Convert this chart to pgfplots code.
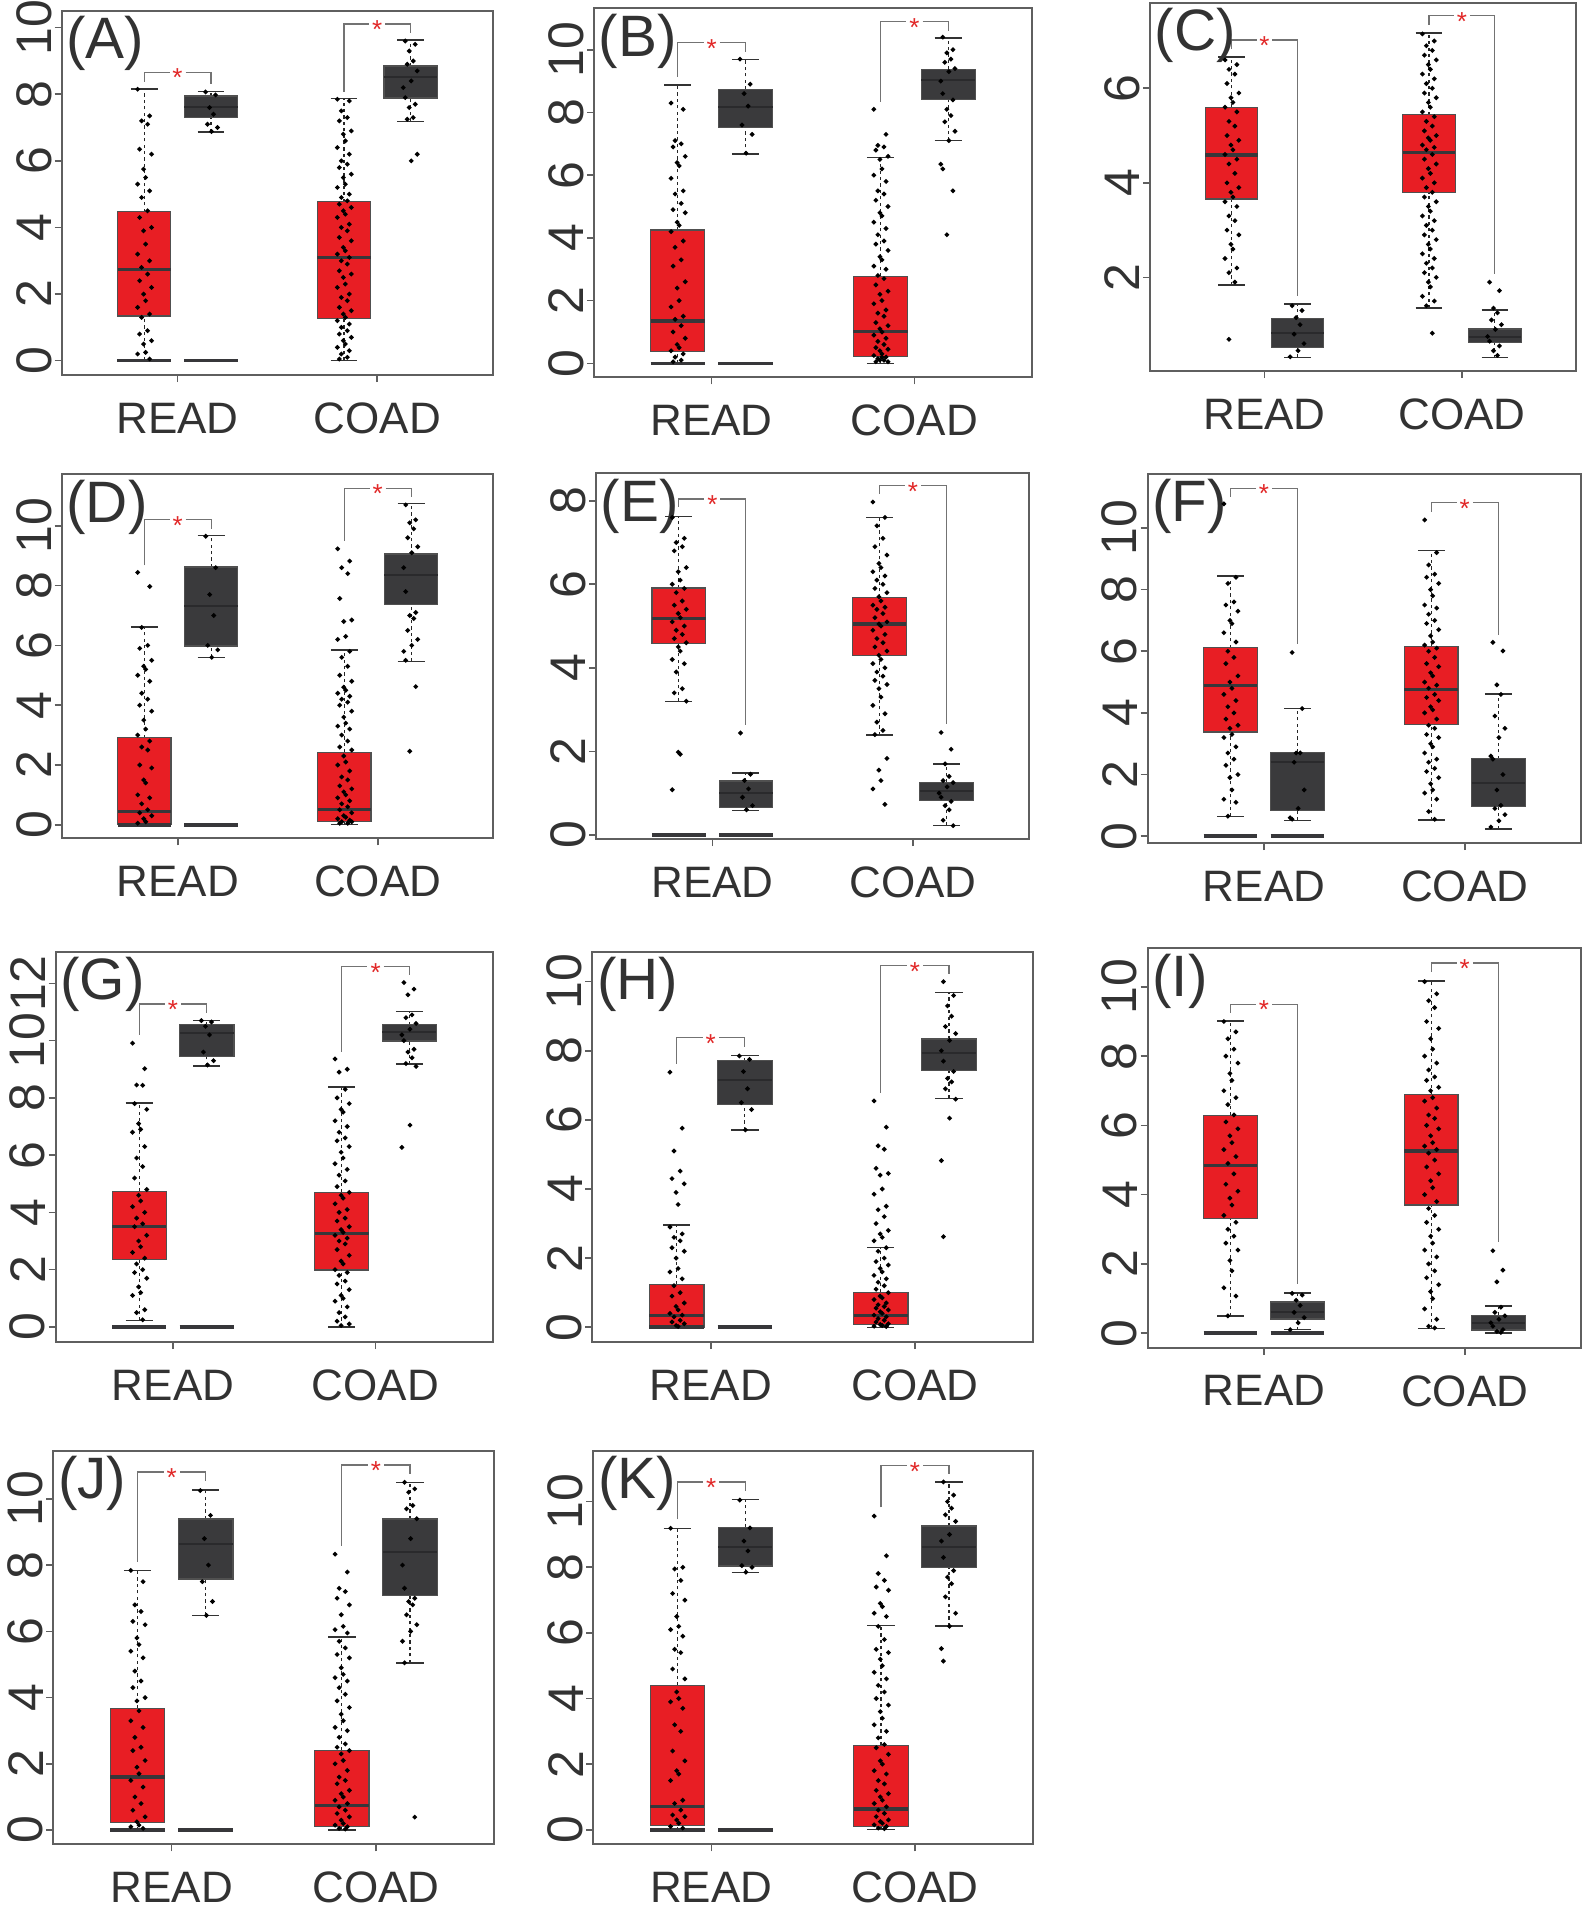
\documentclass[border=0pt]{standalone}
\usepackage{fontspec}
\setmainfont{Liberation Sans}
\usepackage{pgfplots}
\pgfplotsset{compat=1.18}
\usepgfplotslibrary{statistics}
\definecolor{tred}{RGB}{232,30,36}
\definecolor{ndark}{RGB}{58,58,60}
\definecolor{edgegray}{RGB}{80,80,80}
\definecolor{axisgray}{RGB}{95,95,95}
\definecolor{textgray}{RGB}{50,50,50}
\definecolor{brkgray}{RGB}{115,115,115}
\definecolor{starred}{RGB}{225,40,40}
\definecolor{medcol}{RGB}{55,55,58}
\definecolor{nmed}{RGB}{42,42,44}
\tikzset{
  wdash/.style={draw=black!85, line width=0.3pt, dash pattern=on 0.8pt off 0.8pt},
  wcap/.style={draw=black!80, line width=0.35pt},
  star/.style={text=starred, font=\fontsize{6.5}{6.5}\selectfont, inner sep=0pt, anchor=center, yshift=-1.4pt},
  plab/.style={anchor=north west, inner sep=0pt, xshift=1pt, yshift=-1.2pt, font=\fontsize{14.6}{14.6}\selectfont, text=textgray},
}
\pgfplotsset{
  boxplot/draw/lower whisker/.code={%
    \draw[wdash] (boxplot box cs:\pgfplotsboxplotvalue{lower whisker},0.5) -- (boxplot box cs:\pgfplotsboxplotvalue{lower quartile},0.5);
    \draw[wcap] (boxplot whisker cs:\pgfplotsboxplotvalue{lower whisker},0) -- (boxplot whisker cs:\pgfplotsboxplotvalue{lower whisker},1);
  },
  boxplot/draw/upper whisker/.code={%
    \draw[wdash] (boxplot box cs:\pgfplotsboxplotvalue{upper quartile},0.5) -- (boxplot box cs:\pgfplotsboxplotvalue{upper whisker},0.5);
    \draw[wcap] (boxplot whisker cs:\pgfplotsboxplotvalue{upper whisker},0) -- (boxplot whisker cs:\pgfplotsboxplotvalue{upper whisker},1);
  },
  pts/.style={only marks, mark=*, mark size=0.36pt, mark options={draw=black, fill=black}},
  zl/.style={draw=medcol, line width=0.9pt},
  brk/.style={draw=brkgray, line width=0.3pt},
  tum/.style={boxplot/every box/.style={fill=tred, draw=edgegray, line width=0.3pt}, boxplot/every median/.style={draw=medcol, line width=0.8pt}},
  nor/.style={boxplot/every box/.style={fill=ndark, draw=edgegray, line width=0.3pt}, boxplot/every median/.style={draw=nmed, line width=0.5pt}},
  panel/.style={
    scale only axis, anchor=north west, clip=false,
    xmin=0.42, xmax=2.578, xtick={1,2}, xticklabels={READ,COAD},
    tick pos=left, tick align=outside, major tick length=1.75pt,
    axis line style={draw=axisgray, line width=0.5pt},
    every tick/.style={draw=axisgray, line width=0.4pt},
    /pgf/number format/assume math mode=true,
    yticklabel style={font=\fontsize{12.5}{12.5}\selectfont, text=textgray, inner sep=0pt, xshift=-0.6pt, rotate=90, anchor=south},
    xticklabel style={font=\fontsize{11}{11}\selectfont, text=textgray, inner sep=0pt, anchor=north, yshift=-5pt},
    boxplot/draw direction=y,
    boxplot/box extend=0.267, boxplot/whisker extend=0.134,
  },
}
\newcommand\bp[7]{\addplot[boxplot prepared={draw position=#1, lower whisker=#2, lower quartile=#3, median=#4, upper quartile=#5, upper whisker=#6}, #7] coordinates {};}
\newcommand\zR{\addplot[zl] coordinates {(0.699,0) (0.967,0)}; \addplot[zl] coordinates {(1.033,0) (1.301,0)};}
\newcommand\brkR[3]{\addplot[brk] coordinates {(0.833,#1) (0.833,#2) (0.96,#2)}; \addplot[brk] coordinates {(1.04,#2) (1.167,#2) (1.167,#3)}; \node[star] at (axis cs:1,#2) {*};}
\newcommand\brkC[3]{\addplot[brk] coordinates {(1.833,#1) (1.833,#2) (1.96,#2)}; \addplot[brk] coordinates {(2.04,#2) (2.167,#2) (2.167,#3)}; \node[star] at (axis cs:2,#2) {*};}
\begin{document}
\begin{tikzpicture}
\path[use as bounding box] (0pt,0pt) rectangle (398.25pt,-479pt);

% ---------------- (A)
\begin{axis}[panel, at={(15.43pt,-2.75pt)}, width=107.75pt, height=91pt, ymin=-0.43, ymax=10.5, ytick={0,2,4,6,8,10}]
\bp{0.833}{0}{1.34}{2.74}{4.47}{8.16}{tum}
\bp{1.167}{6.87}{7.30}{7.62}{7.95}{8.09}{nor}
\bp{1.833}{0}{1.27}{3.11}{4.77}{7.87}{tum}
\bp{2.167}{7.19}{7.89}{8.53}{8.85}{9.63}{nor}
\zR
\brkR{8.38}{8.66}{8.31}
\brkC{8.08}{10.11}{9.85}
\addplot[pts] table[row sep=\\, header=false]{
0.80 8.15\\0.86 7.35\\0.82 7.2\\0.85 7.1\\0.81 6.35\\0.87 6.2\\0.83 5.75\\0.84 5.5\\
0.80 5.3\\0.86 5.1\\0.82 4.9\\0.85 4.5\\0.81 4.3\\0.87 4.0\\0.83 3.9\\0.84 3.5\\
0.80 3.2\\0.86 3.0\\0.82 2.8\\0.85 2.6\\0.81 2.4\\0.87 2.2\\0.83 2.0\\0.84 1.8\\
0.80 1.6\\0.86 1.4\\0.82 1.3\\0.85 0.9\\0.81 0.8\\0.87 0.6\\0.83 0.5\\0.84 0.25\\
0.80 0.2\\0.86 0.05\\
1.14 8.07\\1.19 7.98\\1.16 7.6\\1.18 7.4\\1.15 7.1\\1.20 7.0\\1.17 6.88\\
1.80 7.85\\1.86 7.8\\1.82 7.5\\1.85 7.3\\1.81 7.2\\1.87 6.9\\1.83 6.8\\1.84 6.6\\
1.80 6.4\\1.86 6.2\\1.82 6.0\\1.85 5.9\\1.81 5.8\\1.87 5.6\\1.83 5.5\\1.84 5.3\\
1.80 5.2\\1.86 5.0\\1.82 4.9\\1.85 4.8\\1.81 4.7\\1.87 4.6\\1.83 4.5\\1.84 4.4\\
1.80 4.3\\1.86 4.1\\1.82 4.0\\1.85 3.9\\1.81 3.7\\1.87 3.6\\1.83 3.4\\1.84 3.3\\
1.80 3.2\\1.86 3.1\\1.82 3.0\\1.85 2.9\\1.81 2.7\\1.87 2.6\\1.83 2.5\\1.84 2.3\\
1.80 2.2\\1.86 2.0\\1.82 1.9\\1.85 1.8\\1.81 1.6\\1.87 1.5\\1.83 1.4\\1.84 1.3\\
1.80 1.2\\1.86 1.1\\1.82 1.0\\1.85 0.9\\1.81 0.8\\1.87 0.7\\1.83 0.6\\1.84 0.5\\
1.80 0.4\\1.86 0.3\\1.82 0.2\\1.85 0.1\\1.81 0.05\\
2.14 9.6\\2.19 9.5\\2.16 9.3\\2.18 9.0\\2.15 8.9\\2.20 8.7\\2.17 8.4\\2.13 8.2\\
2.14 7.9\\2.19 7.7\\2.16 7.6\\2.18 7.3\\2.15 7.25\\2.20 6.2\\2.17 6.0\\
};
\node[plab] at (rel axis cs:0,1) {(A)};
\end{axis}

% ---------------- (B)
\begin{axis}[panel, at={(148.5pt,-2.08pt)}, width=109.4pt, height=92.25pt, ymin=-0.446, ymax=11.32, ytick={0,2,4,6,8,10}]
\bp{0.833}{0}{0.39}{1.35}{4.25}{8.87}{tum}
\bp{1.167}{6.68}{7.53}{8.18}{8.74}{9.69}{nor}
\bp{1.833}{0}{0.23}{1.01}{2.78}{6.57}{tum}
\bp{2.167}{7.10}{8.42}{9.03}{9.37}{10.37}{nor}
\zR
\brkR{9.14}{10.22}{9.94}
\brkC{8.34}{10.89}{10.61}
\addplot[pts] table[row sep=\\, header=false]{
0.80 8.3\\0.86 8.1\\0.82 7.1\\0.85 7.0\\0.81 6.9\\0.87 6.6\\0.83 6.4\\0.84 6.3\\
0.80 5.9\\0.86 5.5\\0.82 5.4\\0.85 5.1\\0.81 4.9\\0.87 4.8\\0.83 4.5\\0.84 4.4\\
0.80 4.2\\0.86 3.9\\0.82 3.7\\0.85 3.3\\0.81 3.1\\0.87 2.6\\0.83 2.4\\0.84 2.0\\
0.80 1.8\\0.86 1.5\\0.82 1.4\\0.85 1.2\\0.81 1.0\\0.87 0.8\\0.83 0.6\\0.84 0.5\\
0.80 0.4\\0.86 0.3\\0.82 0.2\\0.85 0.1\\0.81 0.05\\
1.14 9.7\\1.19 8.9\\1.16 8.6\\1.18 8.2\\1.15 7.6\\1.20 7.3\\1.17 6.7\\
1.80 8.1\\1.86 7.3\\1.82 6.95\\1.85 6.9\\1.81 6.8\\1.87 6.6\\1.83 6.5\\1.84 6.2\\
1.80 6.0\\1.86 5.8\\1.82 5.5\\1.85 5.4\\1.81 5.2\\1.87 5.0\\1.83 4.8\\1.84 4.7\\
1.80 4.5\\1.86 4.3\\1.82 4.1\\1.85 3.9\\1.81 3.8\\1.87 3.6\\1.83 3.4\\1.84 3.3\\
1.80 3.1\\1.86 3.0\\1.82 2.8\\1.85 2.7\\1.81 2.5\\1.87 2.3\\1.83 2.2\\1.84 2.0\\
1.80 1.9\\1.86 1.7\\1.82 1.6\\1.85 1.5\\1.81 1.3\\1.87 1.2\\1.83 1.1\\1.84 1.0\\
1.80 0.9\\1.86 0.8\\1.82 0.7\\1.85 0.6\\1.81 0.5\\1.87 0.45\\1.83 0.4\\1.84 0.3\\
1.80 0.25\\1.86 0.2\\1.82 0.15\\1.85 0.1\\1.81 0.05\\1.87 0.05\\1.83 0.1\\1.84 0.2\\
2.14 10.4\\2.19 10.0\\2.16 9.9\\2.18 9.7\\2.15 9.6\\2.20 9.4\\2.17 9.3\\2.13 9.0\\
2.14 8.6\\2.19 8.4\\2.16 8.1\\2.18 7.9\\2.15 7.7\\2.20 7.4\\2.17 7.1\\2.13 6.35\\
2.14 6.2\\2.19 5.5\\2.16 4.1\\
};
\node[plab] at (rel axis cs:0,1) {(B)};
\end{axis}

% ---------------- (C)
\begin{axis}[panel, at={(287.5pt,-0.68pt)}, width=106.5pt, height=92.1pt, ymin=0.018, ymax=7.81, ytick={2,4,6}]
\bp{0.833}{1.84}{3.66}{4.59}{5.59}{6.66}{tum}
\bp{1.167}{0.31}{0.52}{0.82}{1.13}{1.44}{nor}
\bp{1.833}{1.35}{3.79}{4.65}{5.44}{7.17}{tum}
\bp{2.167}{0.30}{0.62}{0.74}{0.91}{1.31}{nor}
\brkR{6.83}{7.02}{1.6}
\brkC{7.34}{7.54}{2.07}
\addplot[pts] table[row sep=\\, header=false]{
0.80 6.6\\0.86 6.5\\0.82 6.4\\0.85 6.3\\0.81 6.1\\0.87 5.9\\0.83 5.8\\0.84 5.7\\
0.80 5.6\\0.86 5.5\\0.82 5.3\\0.85 5.2\\0.81 5.0\\0.87 4.9\\0.83 4.8\\0.84 4.7\\
0.80 4.6\\0.86 4.5\\0.82 4.4\\0.85 4.2\\0.81 4.0\\0.87 3.9\\0.83 3.8\\0.84 3.7\\
0.80 3.6\\0.86 3.5\\0.82 3.3\\0.85 3.2\\0.81 3.0\\0.87 2.9\\0.83 2.7\\0.84 2.6\\
0.80 2.4\\0.86 2.2\\0.82 2.1\\0.85 1.9\\0.82 0.69\\
1.14 1.4\\1.19 1.3\\1.16 1.15\\1.18 1.0\\1.15 0.8\\1.20 0.6\\1.17 0.45\\1.13 0.32\\
1.80 7.15\\1.86 7.0\\1.82 6.9\\1.85 6.8\\1.81 6.7\\1.87 6.6\\1.83 6.5\\1.84 6.4\\
1.80 6.3\\1.86 6.2\\1.82 6.1\\1.85 6.0\\1.81 5.9\\1.87 5.8\\1.83 5.7\\1.84 5.6\\
1.80 5.5\\1.86 5.4\\1.82 5.3\\1.85 5.2\\1.81 5.1\\1.87 5.0\\1.83 4.95\\1.84 4.9\\
1.80 4.8\\1.86 4.75\\1.82 4.7\\1.85 4.6\\1.81 4.5\\1.87 4.4\\1.83 4.3\\1.84 4.2\\
1.80 4.1\\1.86 4.0\\1.82 3.9\\1.85 3.8\\1.81 3.7\\1.87 3.6\\1.83 3.5\\1.84 3.4\\
1.80 3.3\\1.86 3.2\\1.82 3.1\\1.85 3.0\\1.81 2.9\\1.87 2.8\\1.83 2.7\\1.84 2.6\\
1.80 2.5\\1.86 2.4\\1.82 2.3\\1.85 2.2\\1.81 2.1\\1.87 2.0\\1.83 1.9\\1.84 1.8\\
1.80 1.6\\1.86 1.5\\1.82 1.4\\1.85 0.82\\
2.14 1.9\\2.19 1.72\\2.16 1.35\\2.18 1.25\\2.15 1.1\\2.20 1.0\\2.17 0.9\\2.13 0.75\\
2.14 0.65\\2.19 0.55\\2.16 0.45\\2.18 0.35\\
};
\node[plab] at (rel axis cs:0,1) {(C)};
\end{axis}

% ---------------- (D)
\begin{axis}[panel, at={(15.43pt,-118.6pt)}, width=107.9pt, height=91pt, ymin=-0.457, ymax=11.72, ytick={0,2,4,6,8,10}]
\bp{0.833}{0}{0}{0.45}{2.91}{6.61}{tum}
\bp{1.167}{5.60}{5.98}{7.31}{8.62}{9.68}{nor}
\bp{1.833}{0}{0.11}{0.52}{2.42}{5.84}{tum}
\bp{2.167}{5.46}{7.38}{8.35}{9.06}{10.74}{nor}
\zR
\brkR{8.68}{10.21}{9.91}
\brkC{9.5}{11.26}{10.97}
\addplot[pts] table[row sep=\\, header=false]{
0.80 8.44\\0.86 7.97\\0.82 6.6\\0.85 6.0\\0.81 5.9\\0.87 5.5\\0.83 5.3\\0.84 5.2\\
0.80 5.0\\0.86 4.8\\0.82 4.4\\0.85 4.2\\0.81 4.0\\0.87 3.8\\0.83 3.5\\0.84 3.2\\
0.80 3.0\\0.86 2.8\\0.82 2.6\\0.85 2.5\\0.81 2.0\\0.87 1.9\\0.83 1.5\\0.84 1.4\\
0.80 1.0\\0.86 0.9\\0.82 0.7\\0.85 0.5\\0.81 0.4\\0.87 0.3\\0.83 0.2\\0.84 0.1\\
0.80 0.05\\
1.14 9.65\\1.19 8.6\\1.16 7.7\\1.18 7.0\\1.15 6.0\\1.20 5.85\\1.17 5.6\\
1.80 9.23\\1.86 8.82\\1.82 8.6\\1.85 8.4\\1.81 7.57\\1.87 6.85\\1.83 6.8\\1.84 6.3\\
1.80 6.2\\1.86 5.8\\1.82 5.6\\1.85 5.3\\1.81 5.0\\1.87 4.8\\1.83 4.6\\1.84 4.5\\
1.80 4.4\\1.86 4.3\\1.82 4.2\\1.85 4.1\\1.81 4.0\\1.87 3.8\\1.83 3.6\\1.84 3.4\\
1.80 3.3\\1.86 3.2\\1.82 3.0\\1.85 2.8\\1.81 2.6\\1.87 2.5\\1.83 2.3\\1.84 2.1\\
1.80 2.0\\1.86 1.8\\1.82 1.6\\1.85 1.5\\1.81 1.3\\1.87 1.2\\1.83 1.1\\1.84 1.0\\
1.80 0.9\\1.86 0.8\\1.82 0.7\\1.85 0.6\\1.81 0.5\\1.87 0.4\\1.83 0.3\\1.84 0.25\\
1.80 0.2\\1.86 0.15\\1.82 0.1\\1.85 0.05\\1.81 0.05\\1.87 0.1\\
2.14 10.7\\2.19 10.2\\2.16 10.1\\2.18 9.9\\2.15 9.6\\2.20 9.3\\2.17 9.1\\2.13 8.6\\
2.14 7.8\\2.19 7.1\\2.16 7.0\\2.18 6.9\\2.15 6.5\\2.20 6.2\\2.17 6.0\\2.13 5.8\\
2.14 5.5\\2.19 4.62\\2.16 2.46\\
};
\node[plab] at (rel axis cs:0,1) {(D)};
\end{axis}

% ---------------- (E)
\begin{axis}[panel, at={(149pt,-118.3pt)}, width=108.25pt, height=91.5pt, ymin=-0.104, ymax=8.66, ytick={0,2,4,6,8}]
\bp{0.833}{3.20}{4.58}{5.19}{5.91}{7.63}{tum}
\bp{1.167}{0.59}{0.65}{1.0}{1.29}{1.48}{nor}
\bp{1.833}{2.39}{4.30}{5.05}{5.68}{7.60}{tum}
\bp{2.167}{0.22}{0.82}{1.04}{1.25}{1.70}{nor}
\zR
\brkR{7.85}{8.04}{2.63}
\brkC{8.17}{8.36}{2.66}
\addplot[pts] table[row sep=\\, header=false]{
0.80 7.6\\0.86 7.1\\0.82 7.0\\0.85 6.9\\0.81 6.8\\0.87 6.4\\0.83 6.3\\0.84 6.1\\
0.80 6.0\\0.86 5.9\\0.82 5.8\\0.85 5.6\\0.81 5.5\\0.87 5.4\\0.83 5.3\\0.84 5.2\\
0.80 5.1\\0.86 5.0\\0.82 4.9\\0.85 4.8\\0.81 4.7\\0.87 4.6\\0.83 4.5\\0.84 4.4\\
0.80 4.2\\0.86 4.1\\0.82 3.9\\0.85 3.5\\0.81 3.4\\0.87 3.2\\0.83 1.98\\0.84 1.93\\
0.80 1.08\\
1.14 2.44\\1.19 1.45\\1.16 1.3\\1.18 1.1\\1.15 0.9\\1.20 0.7\\1.17 0.6\\
1.80 7.97\\1.86 7.6\\1.82 7.4\\1.85 7.1\\1.81 6.9\\1.87 6.7\\1.83 6.5\\1.84 6.4\\
1.80 6.3\\1.86 6.2\\1.82 6.1\\1.85 6.0\\1.81 5.9\\1.87 5.8\\1.83 5.7\\1.84 5.6\\
1.80 5.5\\1.86 5.45\\1.82 5.4\\1.85 5.3\\1.81 5.2\\1.87 5.1\\1.83 5.05\\1.84 5.0\\
1.80 4.9\\1.86 4.8\\1.82 4.7\\1.85 4.6\\1.81 4.5\\1.87 4.4\\1.83 4.3\\1.84 4.2\\
1.80 4.1\\1.86 4.0\\1.82 3.9\\1.85 3.8\\1.81 3.7\\1.87 3.6\\1.83 3.5\\1.84 3.3\\
1.80 3.1\\1.86 2.9\\1.82 2.7\\1.85 2.5\\1.81 2.4\\1.87 1.83\\1.83 1.55\\1.84 1.3\\
1.80 1.1\\1.86 0.73\\
2.14 2.45\\2.19 2.05\\2.16 1.7\\2.18 1.4\\2.15 1.3\\2.20 1.25\\2.17 1.15\\2.13 1.0\\
2.14 0.9\\2.19 0.8\\2.16 0.7\\2.18 0.6\\2.15 0.35\\2.20 0.22\\
};
\node[plab] at (rel axis cs:0,1) {(E)};
\end{axis}

% ---------------- (F)
\begin{axis}[panel, at={(286.9pt,-118.5pt)}, width=108.3pt, height=92.3pt, ymin=-0.227, ymax=11.75, ytick={0,2,4,6,8,10}]
\bp{0.833}{0.64}{3.38}{4.88}{6.11}{8.44}{tum}
\bp{1.167}{0.51}{0.83}{2.42}{2.72}{4.14}{nor}
\bp{1.833}{0.53}{3.63}{4.75}{6.16}{9.26}{tum}
\bp{2.167}{0.23}{0.96}{1.72}{2.51}{4.61}{nor}
\zR
\brkR{11.02}{11.29}{6.23}
\brkC{10.53}{10.82}{6.53}
\addplot[pts] table[row sep=\\, header=false]{
0.80 10.78\\0.86 8.4\\0.82 8.2\\0.85 7.6\\0.81 7.5\\0.87 7.3\\0.83 7.0\\0.84 6.9\\
0.80 6.6\\0.86 6.3\\0.82 6.0\\0.85 5.8\\0.81 5.6\\0.87 5.2\\0.83 5.0\\0.84 4.8\\
0.80 4.6\\0.86 4.4\\0.82 4.2\\0.85 4.0\\0.81 3.8\\0.87 3.6\\0.83 3.5\\0.84 3.3\\
0.80 3.2\\0.86 2.9\\0.82 2.7\\0.85 2.5\\0.81 2.3\\0.87 2.0\\0.83 1.9\\0.84 1.5\\
0.80 1.2\\0.86 1.1\\0.82 0.65\\
1.14 5.96\\1.19 4.14\\1.16 2.7\\1.18 2.7\\1.15 2.4\\1.20 1.5\\1.17 0.9\\1.13 0.6\\
1.14 0.55\\
1.80 10.26\\1.86 9.2\\1.82 8.8\\1.85 8.5\\1.81 8.4\\1.87 8.2\\1.83 8.0\\1.84 7.8\\
1.80 7.5\\1.86 7.4\\1.82 7.2\\1.85 7.0\\1.81 6.9\\1.87 6.7\\1.83 6.5\\1.84 6.3\\
1.80 6.2\\1.86 6.1\\1.82 6.0\\1.85 5.8\\1.81 5.6\\1.87 5.5\\1.83 5.3\\1.84 5.2\\
1.80 5.0\\1.86 4.9\\1.82 4.8\\1.85 4.6\\1.81 4.5\\1.87 4.4\\1.83 4.2\\1.84 4.1\\
1.80 4.0\\1.86 3.8\\1.82 3.6\\1.85 3.5\\1.81 3.3\\1.87 3.2\\1.83 3.0\\1.84 2.9\\
1.80 2.7\\1.86 2.5\\1.82 2.4\\1.85 2.2\\1.81 2.1\\1.87 1.9\\1.83 1.7\\1.84 1.5\\
1.80 1.4\\1.86 1.2\\1.82 0.8\\1.85 0.55\\
2.14 6.29\\2.19 6.01\\2.16 4.91\\2.18 4.6\\2.15 3.9\\2.20 3.5\\2.17 3.2\\2.13 2.6\\
2.14 2.5\\2.19 2.0\\2.16 1.5\\2.18 1.0\\2.15 0.9\\2.20 0.7\\2.17 0.5\\2.13 0.3\\
};
\node[plab] at (rel axis cs:0,1) {(F)};
\end{axis}

% ---------------- (G)
\begin{axis}[panel, at={(13.9pt,-237.9pt)}, width=109.25pt, height=97.65pt, ymin=-0.535, ymax=13.11, ytick={0,2,4,6,8,10,12}]
\bp{0.833}{0.22}{2.36}{3.50}{4.73}{7.82}{tum}
\bp{1.167}{9.12}{9.46}{10.26}{10.55}{10.70}{nor}
\bp{1.833}{0}{1.99}{3.27}{4.69}{8.38}{tum}
\bp{2.167}{9.18}{9.99}{10.31}{10.55}{11.01}{nor}
\zR
\brkR{10.2}{11.28}{10.95}
\brkC{9.62}{12.58}{12.29}
\addplot[pts] table[row sep=\\, header=false]{
0.80 9.91\\0.86 9.02\\0.82 8.45\\0.85 8.44\\0.81 7.8\\0.87 7.6\\0.83 7.1\\0.84 6.9\\
0.80 6.8\\0.86 6.3\\0.82 5.9\\0.85 5.6\\0.81 5.2\\0.87 4.8\\0.83 4.6\\0.84 4.4\\
0.80 4.2\\0.86 4.0\\0.82 3.8\\0.85 3.6\\0.81 3.5\\0.87 3.2\\0.83 3.0\\0.84 2.8\\
0.80 2.6\\0.86 2.4\\0.82 2.2\\0.85 2.0\\0.81 1.9\\0.87 1.7\\0.83 1.4\\0.84 1.2\\
0.80 1.1\\0.86 0.6\\0.82 0.5\\0.85 0.25\\
1.14 10.7\\1.19 10.65\\1.16 10.5\\1.18 10.2\\1.15 9.6\\1.20 9.3\\1.17 9.15\\
1.80 9.36\\1.86 9.0\\1.82 8.9\\1.85 8.3\\1.81 8.0\\1.87 7.8\\1.83 7.6\\1.84 7.5\\
1.80 7.2\\1.86 7.0\\1.82 6.8\\1.85 6.6\\1.81 6.5\\1.87 6.3\\1.83 6.1\\1.84 5.9\\
1.80 5.7\\1.86 5.5\\1.82 5.3\\1.85 5.1\\1.81 4.9\\1.87 4.7\\1.83 4.6\\1.84 4.5\\
1.80 4.3\\1.86 4.1\\1.82 4.0\\1.85 3.8\\1.81 3.7\\1.87 3.5\\1.83 3.4\\1.84 3.3\\
1.80 3.2\\1.86 3.1\\1.82 3.0\\1.85 2.9\\1.81 2.7\\1.87 2.5\\1.83 2.3\\1.84 2.2\\
1.80 2.0\\1.86 1.9\\1.82 1.8\\1.85 1.6\\1.81 1.5\\1.87 1.3\\1.83 1.1\\1.84 1.0\\
1.80 0.9\\1.86 0.7\\1.82 0.5\\1.85 0.35\\1.81 0.2\\1.87 0.1\\1.83 0.05\\
2.14 12.03\\2.19 11.8\\2.16 11.6\\2.18 10.9\\2.15 10.8\\2.20 10.6\\2.17 10.4\\2.13 10.2\\
2.14 10.0\\2.19 9.7\\2.16 9.6\\2.18 9.4\\2.15 9.2\\2.20 9.1\\2.17 7.05\\2.13 6.27\\
};
\node[plab] at (rel axis cs:0,1) {(G)};
\end{axis}

% ---------------- (H)
\begin{axis}[panel, at={(148.1pt,-237.9pt)}, width=110.1pt, height=97.65pt, ymin=-0.434, ymax=10.87, ytick={0,2,4,6,8,10}]
\bp{0.833}{0}{0}{0.34}{1.24}{2.96}{tum}
\bp{1.167}{5.71}{6.45}{7.16}{7.71}{7.86}{nor}
\bp{1.833}{0}{0.07}{0.34}{1.0}{2.30}{tum}
\bp{2.167}{6.62}{7.43}{7.93}{8.34}{9.68}{nor}
\zR
\brkR{7.62}{8.38}{8.12}
\brkC{6.79}{10.46}{10.21}
\addplot[pts] table[row sep=\\, header=false]{
0.80 7.38\\0.86 5.76\\0.82 5.1\\0.85 4.52\\0.81 4.3\\0.87 4.15\\0.83 3.9\\0.84 3.55\\
0.80 2.9\\0.86 2.7\\0.82 2.6\\0.85 2.5\\0.81 2.3\\0.87 2.2\\0.83 2.0\\0.84 1.7\\
0.80 1.6\\0.86 1.4\\0.82 1.2\\0.85 1.0\\0.81 0.9\\0.87 0.7\\0.83 0.6\\0.84 0.5\\
0.80 0.4\\0.86 0.35\\0.82 0.3\\0.85 0.2\\0.81 0.15\\0.87 0.1\\0.83 0.05\\0.84 0.02\\
1.14 7.85\\1.19 7.75\\1.16 7.4\\1.18 6.9\\1.15 6.5\\1.20 6.3\\1.17 5.71\\
1.80 6.55\\1.86 5.79\\1.82 5.25\\1.85 5.15\\1.81 4.6\\1.87 4.45\\1.83 4.4\\1.84 4.0\\
1.80 3.85\\1.86 3.5\\1.82 3.4\\1.85 3.2\\1.81 3.0\\1.87 2.8\\1.83 2.7\\1.84 2.6\\
1.80 2.5\\1.86 2.3\\1.82 2.2\\1.85 2.0\\1.81 1.9\\1.87 1.8\\1.83 1.7\\1.84 1.6\\
1.80 1.5\\1.86 1.4\\1.82 1.3\\1.85 1.2\\1.81 1.1\\1.87 1.0\\1.83 0.9\\1.84 0.85\\
1.80 0.8\\1.86 0.7\\1.82 0.65\\1.85 0.6\\1.81 0.55\\1.87 0.5\\1.83 0.45\\1.84 0.4\\
1.80 0.35\\1.86 0.3\\1.82 0.25\\1.85 0.2\\1.81 0.15\\1.87 0.1\\1.83 0.08\\1.84 0.05\\
1.80 0.03\\1.86 0.02\\
2.14 10.0\\2.19 9.6\\2.16 9.3\\2.18 9.0\\2.15 8.7\\2.20 8.5\\2.17 8.3\\2.13 8.0\\
2.14 7.7\\2.19 7.4\\2.16 7.2\\2.18 7.1\\2.15 6.9\\2.20 6.6\\2.17 6.05\\2.13 4.82\\
2.14 2.62\\
};
\node[plab] at (rel axis cs:0,1) {(H)};
\end{axis}

% ---------------- (I)
\begin{axis}[panel, at={(286.9pt,-237.1pt)}, width=108.3pt, height=99.85pt, ymin=-0.423, ymax=11.11, ytick={0,2,4,6,8,10}]
\bp{0.833}{0.50}{3.31}{4.85}{6.29}{9.01}{tum}
\bp{1.167}{0.10}{0.41}{0.62}{0.90}{1.16}{nor}
\bp{1.833}{0.13}{3.70}{5.26}{6.90}{10.17}{tum}
\bp{2.167}{0}{0.09}{0.28}{0.51}{0.79}{nor}
\zR
\brkR{9.25}{9.5}{1.41}
\brkC{10.43}{10.69}{2.64}
\addplot[pts] table[row sep=\\, header=false]{
0.80 9.0\\0.86 8.7\\0.82 8.5\\0.85 8.2\\0.81 8.0\\0.87 7.8\\0.83 7.5\\0.84 7.3\\
0.80 7.0\\0.86 6.8\\0.82 6.6\\0.85 6.3\\0.81 6.1\\0.87 5.9\\0.83 5.7\\0.84 5.5\\
0.80 5.3\\0.86 5.1\\0.82 4.9\\0.85 4.6\\0.81 4.3\\0.87 4.1\\0.83 3.9\\0.84 3.7\\
0.80 3.4\\0.86 3.2\\0.82 3.0\\0.85 2.8\\0.81 2.6\\0.87 2.4\\0.83 2.1\\0.84 1.8\\
0.80 1.31\\0.86 1.07\\0.82 0.5\\
1.14 1.15\\1.19 1.1\\1.16 0.95\\1.18 0.8\\1.15 0.6\\1.20 0.45\\1.17 0.3\\1.13 0.1\\
1.80 10.15\\1.86 9.8\\1.82 9.6\\1.85 9.4\\1.81 9.0\\1.87 8.8\\1.83 8.5\\1.84 8.2\\
1.80 8.0\\1.86 7.8\\1.82 7.6\\1.85 7.4\\1.81 7.3\\1.87 7.1\\1.83 7.0\\1.84 6.8\\
1.80 6.7\\1.86 6.5\\1.82 6.3\\1.85 6.2\\1.81 6.0\\1.87 5.9\\1.83 5.7\\1.84 5.5\\
1.80 5.4\\1.86 5.3\\1.82 5.2\\1.85 5.0\\1.81 4.8\\1.87 4.6\\1.83 4.4\\1.84 4.2\\
1.80 4.0\\1.86 3.8\\1.82 3.6\\1.85 3.4\\1.81 3.2\\1.87 3.0\\1.83 2.8\\1.84 2.6\\
1.80 2.4\\1.86 2.2\\1.82 2.0\\1.85 1.8\\1.81 1.6\\1.87 1.4\\1.83 1.2\\1.84 1.0\\
1.80 0.7\\1.86 0.4\\1.82 0.2\\1.85 0.15\\
2.14 2.38\\2.19 1.82\\2.16 1.48\\2.18 0.75\\2.15 0.6\\2.20 0.5\\2.17 0.4\\2.13 0.3\\
2.14 0.2\\2.19 0.1\\2.16 0.05\\2.18 0.02\\
};
\node[plab] at (rel axis cs:0,1) {(I)};
\end{axis}

% ---------------- (J)
\begin{axis}[panel, at={(13.3pt,-362.7pt)}, width=110.2pt, height=98.4pt, ymin=-0.433, ymax=11.45, ytick={0,2,4,6,8,10}]
\bp{0.833}{0}{0.22}{1.60}{3.67}{7.84}{tum}
\bp{1.167}{6.48}{7.58}{8.65}{9.39}{10.27}{nor}
\bp{1.833}{0}{0.11}{0.75}{2.40}{5.83}{tum}
\bp{2.167}{5.05}{7.08}{8.4}{9.39}{10.5}{nor}
\zR
\brkR{8.1}{10.81}{10.54}
\brkC{8.58}{11.02}{10.74}
\addplot[pts] table[row sep=\\, header=false]{
0.80 7.84\\0.86 7.5\\0.82 6.8\\0.85 6.6\\0.81 6.3\\0.87 6.2\\0.83 5.8\\0.84 5.6\\
0.80 5.4\\0.86 5.2\\0.82 4.8\\0.85 4.5\\0.81 4.3\\0.87 4.0\\0.83 3.9\\0.84 3.6\\
0.80 3.3\\0.86 3.1\\0.82 2.8\\0.85 2.5\\0.81 2.4\\0.87 2.1\\0.83 1.9\\0.84 1.7\\
0.80 1.5\\0.86 1.3\\0.82 1.0\\0.85 0.8\\0.81 0.6\\0.87 0.4\\0.83 0.25\\0.84 0.15\\
0.80 0.1\\0.86 0.05\\
1.14 10.25\\1.19 9.5\\1.16 8.8\\1.18 8.0\\1.15 7.5\\1.20 6.9\\1.17 6.48\\
1.80 8.33\\1.86 7.79\\1.82 7.3\\1.85 7.2\\1.81 7.0\\1.87 6.8\\1.83 6.5\\1.84 6.15\\
1.80 6.05\\1.86 5.95\\1.82 5.7\\1.85 5.5\\1.81 5.3\\1.87 5.2\\1.83 4.9\\1.84 4.7\\
1.80 4.6\\1.86 4.5\\1.82 4.3\\1.85 4.1\\1.81 3.9\\1.87 3.7\\1.83 3.5\\1.84 3.3\\
1.80 3.1\\1.86 3.0\\1.82 2.8\\1.85 2.6\\1.81 2.5\\1.87 2.4\\1.83 2.3\\1.84 2.1\\
1.80 2.0\\1.86 1.8\\1.82 1.6\\1.85 1.5\\1.81 1.4\\1.87 1.2\\1.83 1.1\\1.84 1.0\\
1.80 0.9\\1.86 0.8\\1.82 0.7\\1.85 0.6\\1.81 0.5\\1.87 0.4\\1.83 0.3\\1.84 0.2\\
1.80 0.15\\1.86 0.1\\1.82 0.05\\1.85 0.03\\
2.14 10.5\\2.19 10.3\\2.16 10.2\\2.18 9.8\\2.15 9.7\\2.20 9.4\\2.17 8.8\\2.13 8.0\\
2.14 7.3\\2.19 7.0\\2.16 6.9\\2.18 6.8\\2.15 6.5\\2.20 6.2\\2.17 6.0\\2.13 5.7\\
2.14 5.05\\2.19 0.39\\
};
\node[plab] at (rel axis cs:0,1) {(J)};
\end{axis}

% ---------------- (K)
\begin{axis}[panel, at={(148.3pt,-362.7pt)}, width=109.85pt, height=98.4pt, ymin=-0.447, ymax=11.55, ytick={0,2,4,6,8,10}]
\bp{0.833}{0}{0.14}{0.72}{4.40}{9.19}{tum}
\bp{1.167}{7.85}{8.04}{8.63}{9.22}{10.07}{nor}
\bp{1.833}{0}{0.11}{0.63}{2.57}{6.23}{tum}
\bp{2.167}{6.21}{7.99}{8.61}{9.26}{10.6}{nor}
\zR
\brkR{9.46}{10.6}{10.34}
\brkC{9.83}{11.1}{10.84}
\addplot[pts] table[row sep=\\, header=false]{
0.80 9.19\\0.86 8.0\\0.82 7.95\\0.85 7.6\\0.81 7.2\\0.87 7.0\\0.83 6.5\\0.84 6.2\\
0.80 6.1\\0.86 5.9\\0.82 5.5\\0.85 5.4\\0.81 4.9\\0.87 4.6\\0.83 4.2\\0.84 4.0\\
0.80 3.9\\0.86 3.7\\0.82 3.2\\0.85 3.0\\0.81 2.4\\0.87 2.1\\0.83 1.8\\0.84 1.7\\
0.80 1.5\\0.86 0.9\\0.82 0.8\\0.85 0.6\\0.81 0.45\\0.87 0.4\\0.83 0.3\\0.84 0.2\\
0.80 0.1\\0.86 0.05\\
1.14 10.05\\1.19 9.2\\1.16 8.8\\1.18 8.5\\1.15 8.05\\1.20 8.0\\1.17 7.85\\
1.80 9.56\\1.86 8.35\\1.82 7.81\\1.85 7.6\\1.81 7.4\\1.87 7.3\\1.83 6.9\\1.84 6.8\\
1.80 6.6\\1.86 6.5\\1.82 6.2\\1.85 5.8\\1.81 5.5\\1.87 5.4\\1.83 5.2\\1.84 5.0\\
1.80 4.8\\1.86 4.6\\1.82 4.4\\1.85 4.2\\1.81 4.0\\1.87 3.8\\1.83 3.6\\1.84 3.4\\
1.80 3.2\\1.86 3.0\\1.82 2.8\\1.85 2.6\\1.81 2.5\\1.87 2.3\\1.83 2.1\\1.84 2.0\\
1.80 1.8\\1.86 1.7\\1.82 1.5\\1.85 1.4\\1.81 1.2\\1.87 1.1\\1.83 1.0\\1.84 0.9\\
1.80 0.8\\1.86 0.7\\1.82 0.6\\1.85 0.5\\1.81 0.4\\1.87 0.3\\1.83 0.25\\1.84 0.2\\
1.80 0.15\\1.86 0.1\\1.82 0.05\\1.85 0.03\\
2.14 10.6\\2.19 10.2\\2.16 10.0\\2.18 9.8\\2.15 9.6\\2.20 9.4\\2.17 9.0\\2.13 8.8\\
2.14 8.3\\2.19 7.9\\2.16 7.7\\2.18 7.5\\2.15 7.1\\2.20 6.6\\2.17 6.2\\2.13 5.52\\
2.14 5.14\\
};
\node[plab] at (rel axis cs:0,1) {(K)};
\end{axis}
\end{tikzpicture}
\end{document}
